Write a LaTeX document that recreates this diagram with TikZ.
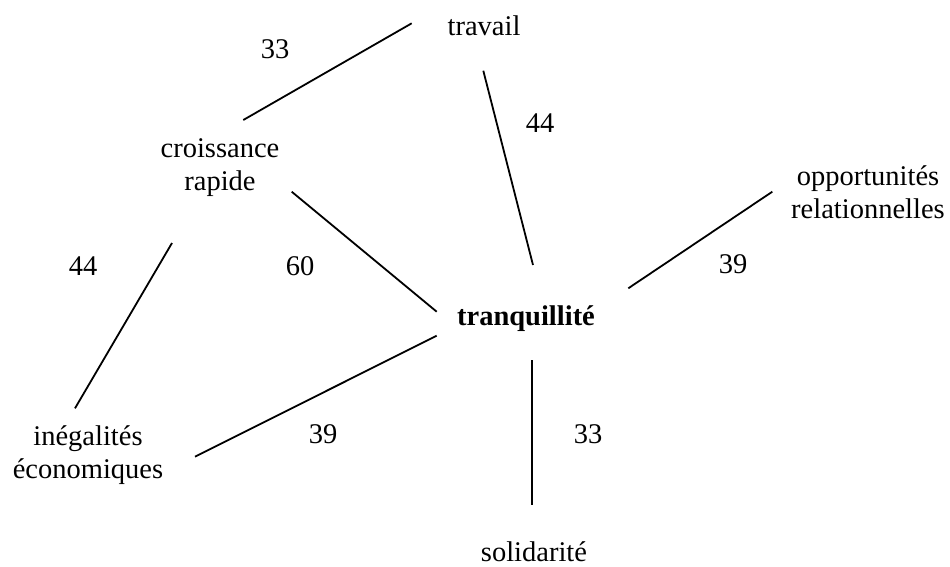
\documentclass[tikz,border=0pt]{standalone}
\usepackage{fontspec}
\setmainfont{Liberation Serif}
\newfontfamily\termfont{Liberation Serif}
\begin{document}
\begin{tikzpicture}[x=1pt,y=-1pt,
  term/.style={font=\termfont\fontsize{28.5}{33}\selectfont, align=center, inner sep=0pt, anchor=base},
  weight/.style={font=\termfont\fontsize{28.5}{33}\selectfont, inner sep=0pt, anchor=base},
  link/.style={line width=1.8pt}]
\fill[white] (0,0) rectangle (950,566);
\useasboundingbox (0,0) rectangle (950,566);

% terms (base anchor sits on the last line)
\node[term] (travail) at (484,35) {travail};
\node[term] (croissance) at (220,190) {croissance\\rapide};
\node[term] (opport) at (868,218) {opportunités\\relationnelles};
\node[term, font=\termfont\fontsize{28.5}{33}\selectfont\bfseries] (tranq) at (526,325) {tranquillité};
\node[term] (inegal) at (88,478) {inégalités\\économiques};
\node[term] (solid) at (534,561) {solidarité};

% connector ends
\coordinate (travail-w) at (411.7,23.3);
\coordinate (travail-s) at (483.3,70.7);
\coordinate (croiss-ne) at (243.3,120);
\coordinate (croiss-se) at (291.7,191.7);
\coordinate (croiss-sw) at (172,243);
\coordinate (tranq-n) at (533,265);
\coordinate (tranq-nw) at (436.7,311.7);
\coordinate (tranq-sw) at (436.7,335.7);
\coordinate (tranq-s1) at (531.7,360);
\coordinate (tranq-ne) at (628.3,288.3);
\coordinate (inegal-n) at (75,408.3);
\coordinate (inegal-ne) at (195,456.7);
\coordinate (solid-n) at (531.7,505);
\coordinate (opport-sw) at (772.3,191.7);

% connectors
\draw[link] (travail-w) -- (croiss-ne);
\draw[link] (travail-s) -- (tranq-n);
\draw[link] (croiss-se) -- (tranq-nw);
\draw[link] (croiss-sw) -- (inegal-n);
\draw[link] (tranq-sw) -- (inegal-ne);
\draw[link] (tranq-s1) -- (solid-n);
\draw[link] (tranq-ne) -- (opport-sw);

% weights
\node[weight] (w1) at (275,58) {33};
\node[weight] (w2) at (540,132) {44};
\node[weight] (w3) at (83,275) {44};
\node[weight] (w4) at (300,275) {60};
\node[weight] (w5) at (323,443) {39};
\node[weight] (w6) at (733,273) {39};
\node[weight] (w7) at (588,443) {33};
\end{tikzpicture}
\end{document}
